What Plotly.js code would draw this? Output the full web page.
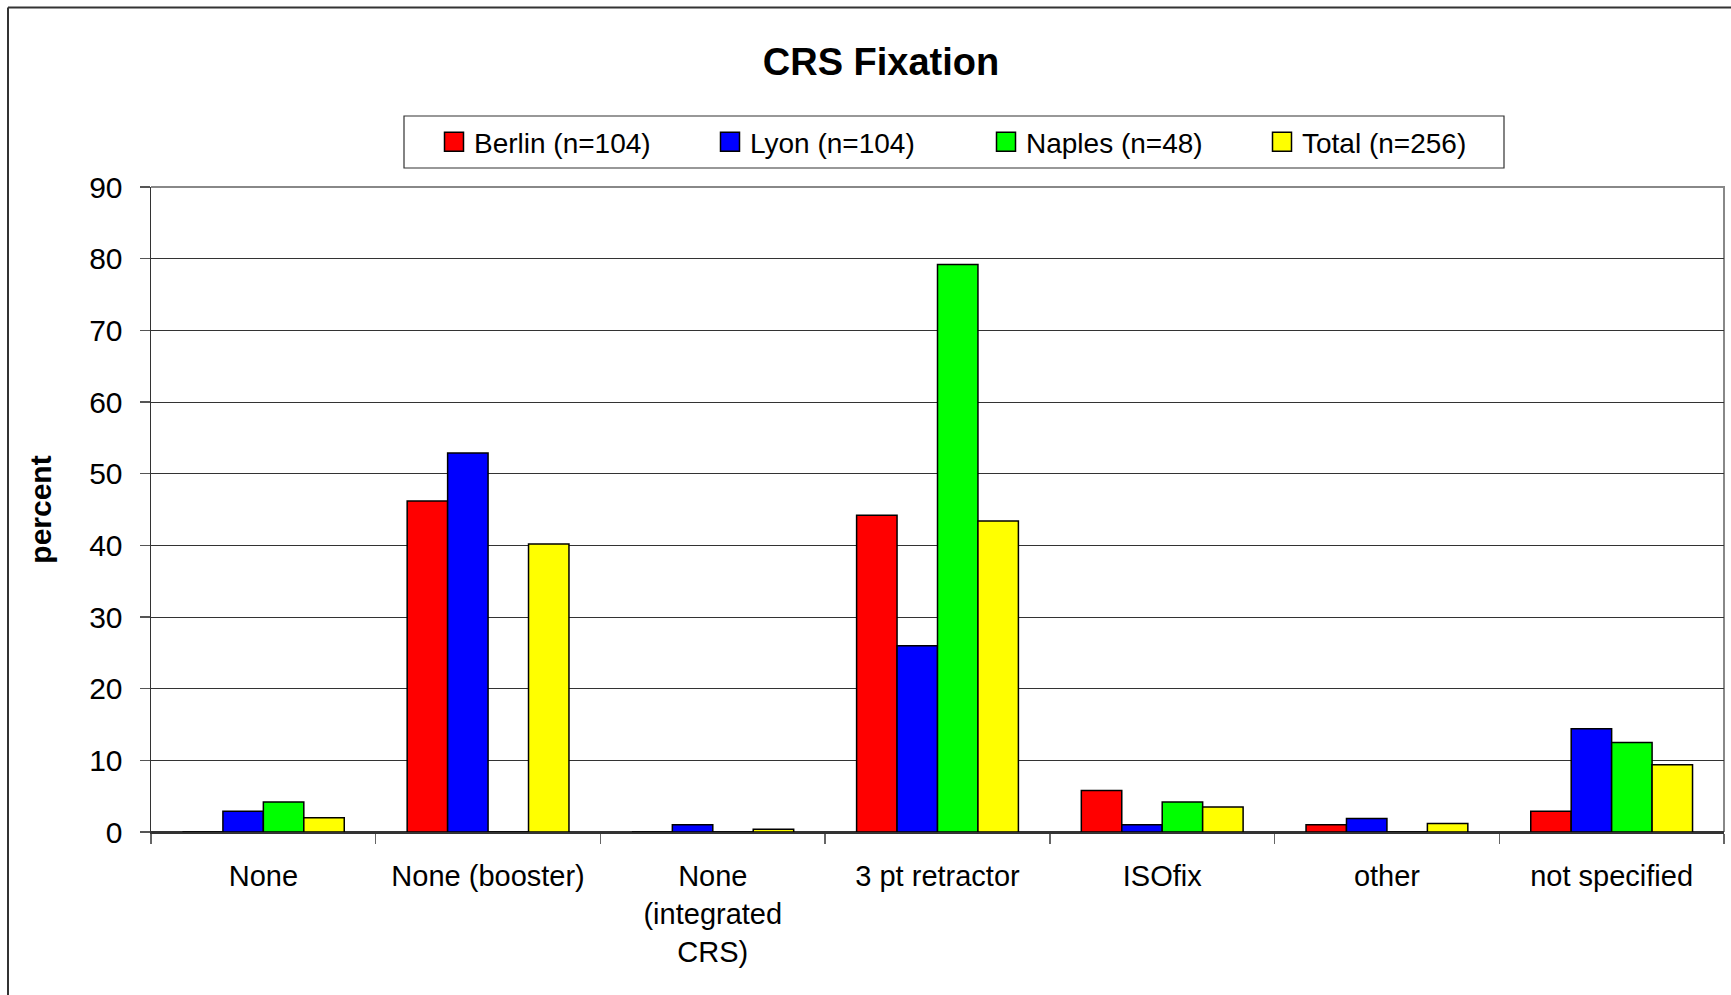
<!DOCTYPE html>
<html>
<head>
<meta charset="utf-8">
<script src="https://cdn.plot.ly/plotly-3.0.1.min.js"></script>
<style>
  html, body { margin: 0; padding: 0; background: #ffffff; }
  #chart { width: 1731px; height: 995px; }
</style>
</head>
<body>
<div id="chart"></div>
<script>
// Categories (x axis)
const categories = ["None", "None (booster)", "None<br>(integrated<br>CRS)", "3 pt retractor", "ISOfix", "other", "not specified"];

// Series values (percent)
const berlin = [0, 46.2, 0, 44.2, 5.8, 1.0, 2.9];
const lyon   = [2.9, 52.9, 1.0, 26.0, 1.0, 1.9, 14.4];
const naples = [4.2, 0, 0, 79.2, 4.2, 0, 12.5];
const total  = [2.0, 40.2, 0.4, 43.4, 3.5, 1.2, 9.4];

// Series names
const seriesNames = ["Berlin (n=104)", "Lyon (n=104)", "Naples (n=48)", "Total (n=256)"];
const seriesColors = ["#ff0000", "#0000ff", "#00ff00", "#ffff00"];
const seriesValues = [berlin, lyon, naples, total];

const FONT = "Liberation Sans, Arial, Helvetica, sans-serif";

const traces = seriesValues.map((vals, i) => ({
  type: "bar",
  name: seriesNames[i],
  x: categories,
  y: vals,
  marker: { color: seriesColors[i], line: { color: "#000000", width: 1.5 } },
  hoverinfo: "x+y+name"
}));

// Plot area geometry (px) used to place decorative frame lines in paper coords
const L = 151, R = 7, T = 187, B = 163, W = 1731, H = 995;
const pw = W - L - R, ph = H - T - B;
const px = v => (v - L) / pw;
const py = v => (H - B - v) / ph;

const layout = {
  width: W,
  height: H,
  margin: { l: L, r: R, t: T, b: B, pad: 0 },
  paper_bgcolor: "#ffffff",
  plot_bgcolor: "#ffffff",
  font: { family: FONT, size: 28, color: "#000000" },
  title: {
    text: "<b>CRS Fixation</b>",
    font: { family: FONT, size: 38, color: "#000000" },
    xref: "container", yref: "container",
    x: 881 / W, y: 1 - 62 / H, xanchor: "center", yanchor: "middle"
  },
  barmode: "group",
  bargap: 0.28,
  bargroupgap: 0,
  showlegend: true,
  legend: {
    orientation: "h",
    x: px(434), xanchor: "left",
    y: py(142), yanchor: "middle",
    font: { family: FONT, size: 28, color: "#000000" },
    bgcolor: "rgba(0,0,0,0)",
    borderwidth: 0,
    entrywidth: 231,
    entrywidthmode: "pixels",
    traceorder: "normal"
  },
  xaxis: {
    type: "category",
    showgrid: false,
    showline: true,
    linecolor: "#333333",
    linewidth: 1.5,
    ticks: "outside",
    tickson: "boundaries",
    ticklen: 10,
    tickcolor: "#666666",
    tickwidth: 1.5,
    ticklabelstandoff: 18,
    tickfont: { family: FONT, size: 29, color: "#000000" },
    automargin: false,
    fixedrange: true
  },
  yaxis: {
    range: [0, 90],
    dtick: 10,
    tick0: 0,
    showgrid: true,
    gridcolor: "#333333",
    gridwidth: 1,
    zeroline: true,
    zerolinecolor: "#333333",
    zerolinewidth: 1.5,
    showline: true,
    linecolor: "#333333",
    linewidth: 1.5,
    ticks: "outside",
    ticklen: 10,
    tickcolor: "#555555",
    tickwidth: 1.5,
    ticklabelstandoff: 11,
    tickfont: { family: FONT, size: 30, color: "#000000" },
    title: {
      text: "<b>percent</b>",
      font: { family: FONT, size: 30, color: "#000000" },
      standoff: 28
    },
    automargin: false,
    fixedrange: true
  },
  shapes: [
    // legend frame
    { type: "rect", xref: "paper", yref: "paper",
      x0: px(404), x1: px(1504), y0: py(168), y1: py(116),
      line: { color: "#333333", width: 1.2 }, fillcolor: "rgba(0,0,0,0)", layer: "above" },
    // plot area top and right border
    { type: "path", xref: "paper", yref: "paper",
      path: "M 0 1 L 1 1 L 1 0",
      line: { color: "#888888", width: 2 }, layer: "below" },
    // outer chart frame (top and left edges visible)
    { type: "line", xref: "paper", yref: "paper",
      x0: px(8), x1: px(1731), y0: py(7.5), y1: py(7.5),
      line: { color: "#333333", width: 2 } },
    { type: "line", xref: "paper", yref: "paper",
      x0: px(8), x1: px(8), y0: py(7.5), y1: py(995),
      line: { color: "#333333", width: 2 } }
  ]
};

Plotly.newPlot("chart", traces, layout, { displayModeBar: false, staticPlot: true }).then(gd => {
  // enlarge legend swatches to match the reference's larger outlined squares
  gd.querySelectorAll(".legend .legendpoints path").forEach(p => {
    p.setAttribute("d", "M9.5,9.5H-9.5V-9.5H9.5Z");
    p.style.stroke = "#000000";
    p.style.strokeWidth = "1.5px";
  });
});
</script>
</body>
</html>
